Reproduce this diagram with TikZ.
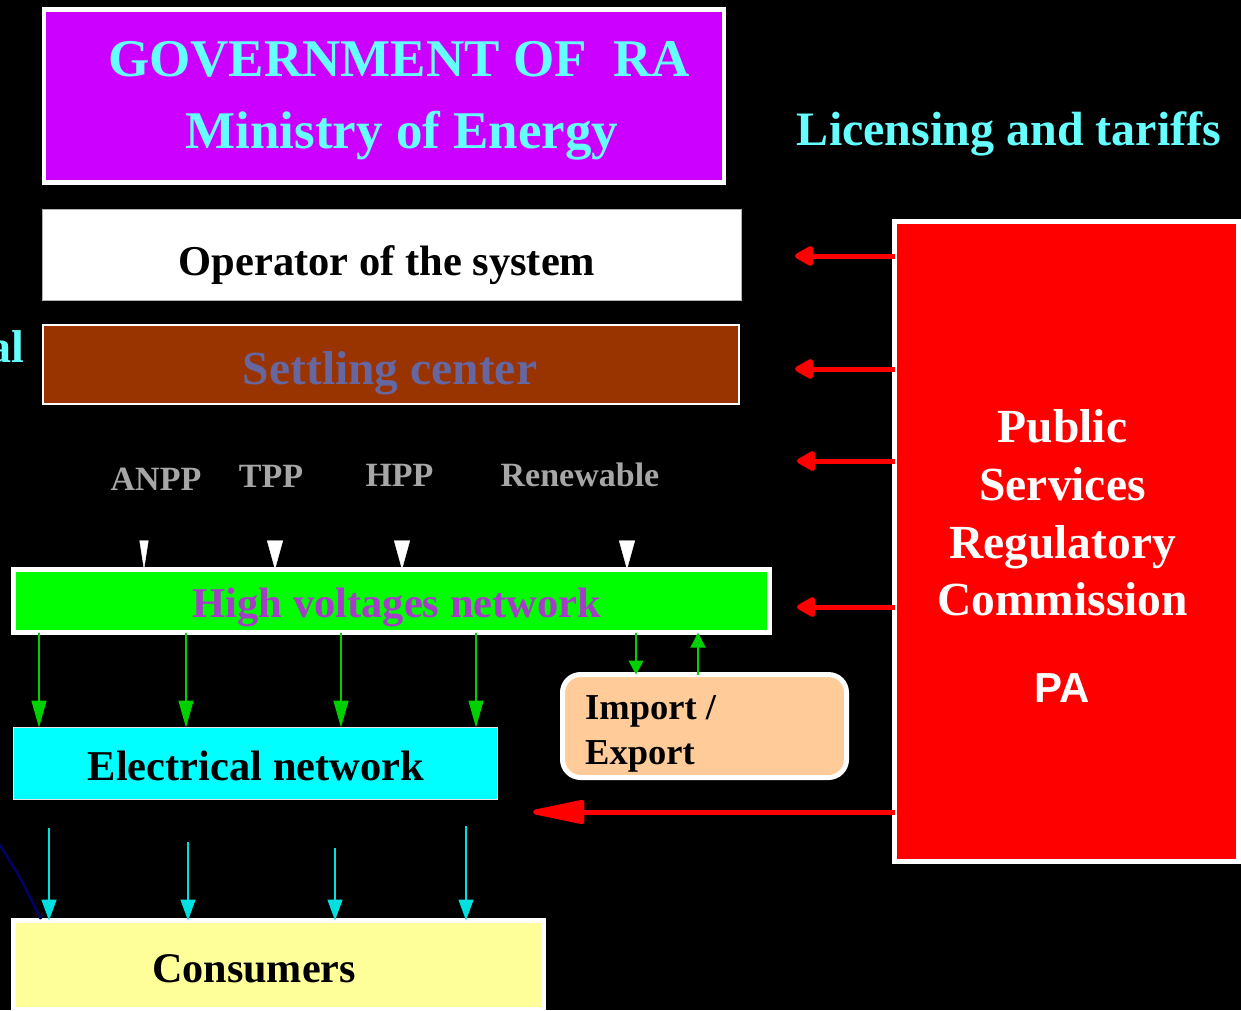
\documentclass[tikz,border=0pt]{standalone}
\usepackage{fontspec}
\setmainfont{Liberation Serif}
\newfontfamily\arialfont{Liberation Sans}
\usetikzlibrary{arrows.meta}

\definecolor{govmag}{HTML}{CC00FF}
\definecolor{lcyan}{HTML}{66FFFF}
\definecolor{setbrown}{HTML}{993300}
\definecolor{setslate}{HTML}{6666A0}
\definecolor{hvgreen}{HTML}{00FF00}
\definecolor{hvpurple}{HTML}{A63CC8}
\definecolor{gengray}{HTML}{A6A6A6}
\definecolor{elcyan}{HTML}{00FFFF}
\definecolor{peach}{HTML}{FFCC99}
\definecolor{cream}{HTML}{FFFF99}
\definecolor{navy}{HTML}{000066}
\definecolor{argreen}{HTML}{00D000}
\definecolor{arcyan}{HTML}{00E0E0}

\newcommand{\bfs}[1]{\fontsize{#1}{#1}\selectfont\bfseries}

\begin{document}
\begin{tikzpicture}[x=1pt,y=-1pt,
    box/.style={draw=white,inner sep=0pt,outer sep=0pt},
    txt/.style={anchor=base,inner sep=0pt},
    redarr/.style={draw=red,line width=5pt,-{Triangle[length=21pt,width=22pt,round]}},
    bigtip/.style={-{Triangle[length=62pt,width=24pt,round]}},
    genarr/.style={draw=black,-{Triangle[length=29pt,width=#1,color=white]}},
    grarr/.style={draw=argreen,line width=1.5pt,-{Triangle[length=#1,width=15pt]}},
    cyarr/.style={draw=arcyan,line width=1.5pt,-{Triangle[length=21pt,width=15pt]}}]
    \fill[black] (0,0) rectangle (1241,1010);
    \useasboundingbox (0,0) rectangle (1241,1010);

   		\node at (384,96) [box,line width=4.5pt,fill=govmag,minimum width=680pt,minimum height=173pt] (gov) {};
       	\node at (399,76) [txt,text=lcyan,font=\bfs{53}] (govt) {GOVERNMENT OF\ \ RA};
        \node at (402,148) [txt,text=lcyan,font=\bfs{53}] (min) {Ministry of Energy};
        \node at (1009,145) [txt,text=lcyan,font=\bfs{48}] (lic) {Licensing and tariffs};
        \node at (24,362) [txt,anchor=base east,text=lcyan,font=\bfs{46}] (al) {al};

        \node at (392,255) [box,draw=gray!60,line width=1pt,fill=white,minimum width=699pt,minimum height=91pt] (op) {};
        \node at (387,275) [txt,font=\bfs{42.5}] (opt) {Operator of the system};
        \node at (391,364.5) [box,line width=2pt,fill=setbrown,minimum width=696pt,minimum height=79pt] (set) {};
        \node at (390,384) [txt,text=setslate,font=\bfs{47.5}] (sett) {Settling center};

        \node at (1066.5,541.5) [box,line width=5pt,fill=red,minimum width=344pt,minimum height=640pt] (ps) {};
        \foreach \t/\y in {Public/442,Services/500,Regulatory/558,Commission/615}
            \node at (1062.5,\y) [txt,text=white,font=\bfs{47.5}] (ps\y) {\t};
        \node at (1062,702) [txt,text=white,font=\arialfont\bfs{42}] (pa) {PA};

        \node at (156,490) [txt,text=gengray,font=\bfs{34}] (anpp) {ANPP};
        \node at (271,487) [txt,text=gengray,font=\bfs{34}] (tpp) {TPP};
        \node at (399.5,486) [txt,text=gengray,font=\bfs{34}] (hpp) {HPP};
        \node at (580,486) [txt,text=gengray,font=\bfs{34}] (ren) {Renewable};

        \node at (391.5,601) [box,line width=4.5pt,fill=hvgreen,minimum width=756pt,minimum height=63pt] (hv) {};
        \node at (397,617) [txt,text=hvpurple,font=\bfs{42.5}] (hvt) {High voltages network};
        \node at (255.5,763.5) [box,draw=white!80!gray,line width=1.5pt,fill=elcyan,minimum width=484pt,minimum height=72pt] (el) {};
        \node at (256,780) [txt,font=\bfs{42.5}] (elt) {Electrical network};
        \node at (704.5,726) [box,line width=5pt,fill=peach,rounded corners=18pt,minimum width=284pt,minimum height=103pt] (imp) {};
        \node at (585,719) [txt,anchor=base west,font=\bfs{36.5}] (impt) {Import /};
        \node at (585,764) [txt,anchor=base west,font=\bfs{36.5}] (expt) {Export};
        \node at (278.5,965) [box,line width=5pt,fill=cream,minimum width=530pt,minimum height=89pt] (cons) {};
        \node at (254,982) [txt,font=\bfs{42.2}] (const) {Consumers};

        \coordinate (t1) at (795,256);
        \coordinate (t2) at (795,369);
        \coordinate (t3) at (797,461);
        \coordinate (t4) at (797,607);
        \coordinate (t5) at (533,812);
        \draw[redarr] (t1 -| ps.west) -- (t1);
        \draw[redarr] (t2 -| ps.west) -- (t2);
        \draw[redarr] (t3 -| ps.west) -- (t3);
        \draw[redarr] (t4 -| ps.west) -- (t4);
        \draw[redarr,bigtip] (t5 -| ps.west) -- (t5);

        \draw[genarr=9pt] (144,0 |- anpp.south) -- (144,0 |- hv.north);
        \draw[genarr=16pt] (275,0 |- tpp.south) -- (275,0 |- hv.north);
        \draw[genarr=16pt] (402,0 |- hpp.south) -- (402,0 |- hv.north);
        \draw[genarr=16pt] (627,0 |- ren.south) -- (627,0 |- hv.north);

        \foreach \x in {39,186,341,476}
            \draw[grarr=27pt] (\x,0 |- hv.south) -- (\x,0 |- el.north);
        \draw[grarr=14pt] (636,0 |- hv.south) -- (636,0 |- imp.north);
        \draw[grarr=15pt] (698,0 |- imp.north) -- (698,0 |- hv.south);

        \foreach \x/\y in {49/828,188/842,335/848,466/826}{
            \coordinate (c\x) at (\x,\y);
            \draw[cyarr] (c\x) -- (c\x |- cons.north);}

        \coordinate (nv1) at (-2,842);
        \coordinate (nv2) at (41,919);
        \draw[navy,line width=2.5pt] (nv1) .. controls (20,877) .. (nv2);
    \end{tikzpicture}
\end{document}
